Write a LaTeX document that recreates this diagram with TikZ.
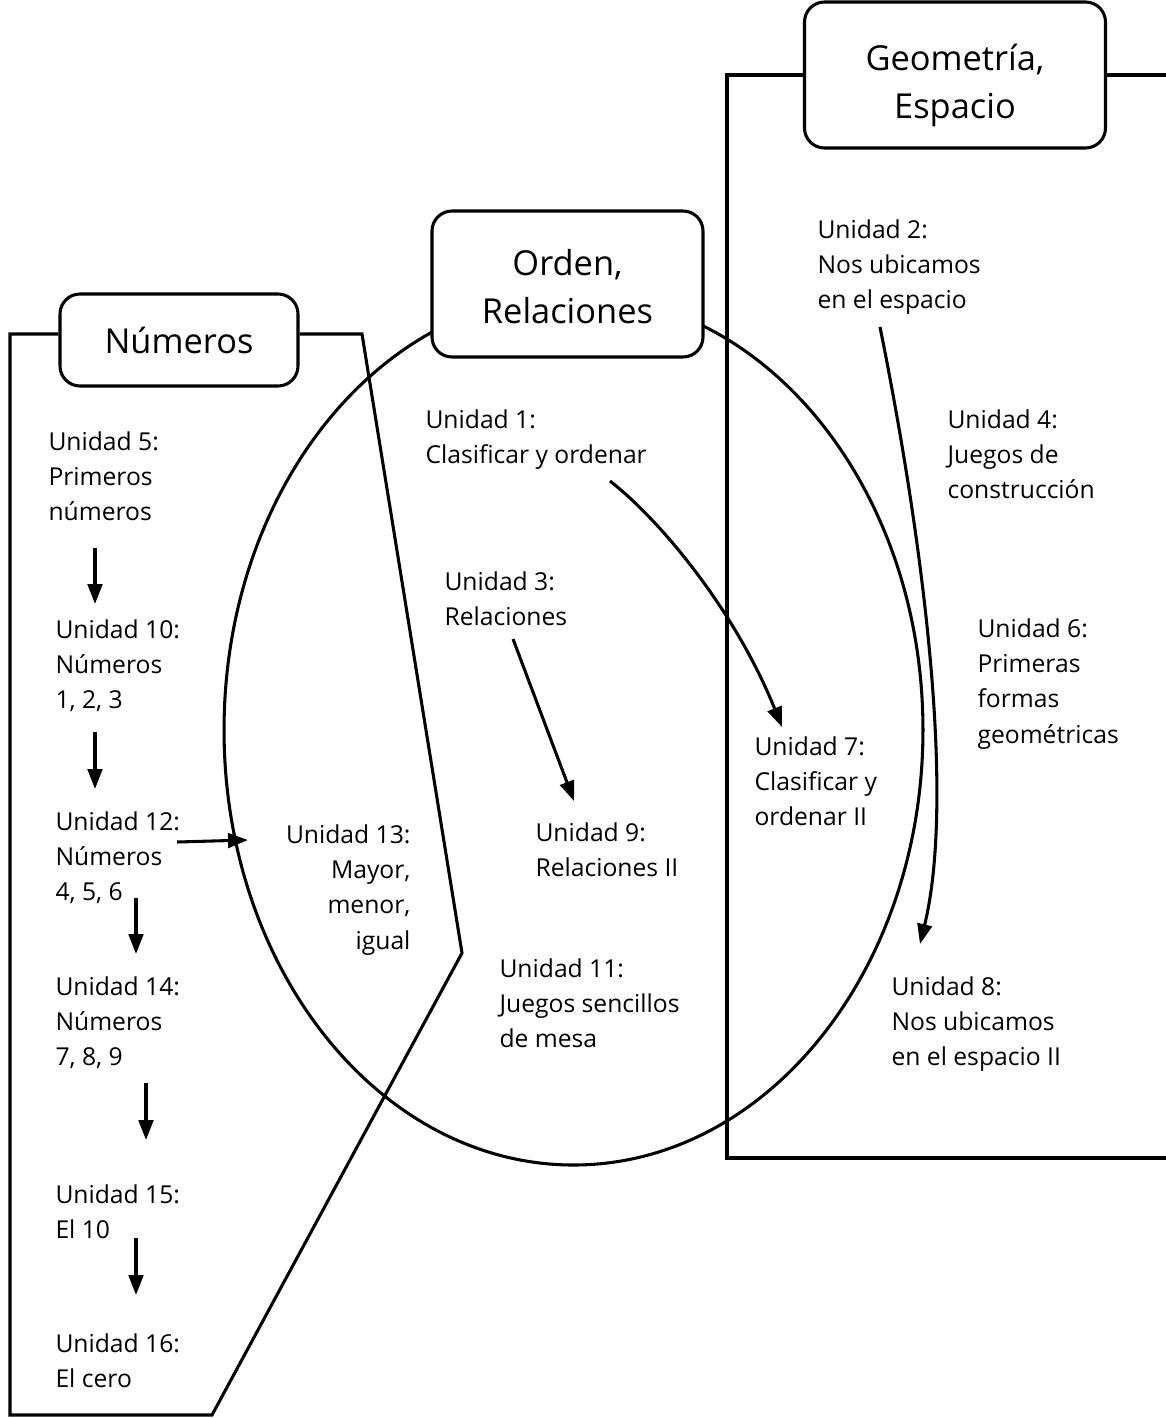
\documentclass[tikz,border=0pt]{standalone}
\usepackage{fontspec}
\setmainfont{Open Sans}
\usetikzlibrary{arrows.meta,calc}
\newcommand\ufont{\fontsize{18.5}{26.5}\selectfont}
\newcommand\hfont{\fontsize{25.8}{36}\selectfont}
\begin{document}
\begin{tikzpicture}[x=0.75pt,y=-0.75pt,line width=2.3pt,
  hdr/.style={draw,fill=white,rounded corners=15pt,align=center,font=\hfont,inner sep=0pt},
  unit/.style={align=left,font=\ufont,inner sep=0pt,anchor=north west},
  arr/.style={-{Triangle[length=15pt,width=11pt]}}]
\useasboundingbox (0,0) rectangle (1166,1418);
% ellipse
\coordinate (ec) at (573.5,730);
\draw (ec) ellipse [x radius=262.1pt, y radius=326.25pt];
% header boxes
\node[hdr,minimum width=178.5pt,minimum height=69pt] (num) at (179,340) {Números};
\node[hdr,minimum width=203.25pt,minimum height=109.5pt,
  label={[font=\hfont,align=center,yshift=-2pt]center:{Orden,\\Relaciones}}] (ord) at (567.5,284) {};
\node[hdr,minimum width=225.75pt,minimum height=109.5pt,
  label={[font=\hfont,align=center,yshift=-7.5pt]center:{Geometría,\\Espacio}}] (geo) at (955,75) {};
% region outlines
\coordinate (nly) at (0,334);
\coordinate (n1) at (10,334);
\coordinate (n2) at (10,1415);
\coordinate (n3) at (212,1415);
\coordinate (n4) at (462,953);
\coordinate (n5) at (362,334);
\draw (num.west |- nly) -- (n1) -- (n2) -- (n3) -- (n4) -- (n5) -- (num.east |- nly);
\coordinate (g1) at (727,75);
\coordinate (g2) at (727,1158);
\coordinate (g3) at (1166,1158);
\coordinate (g4) at (1166,75);
\draw (geo.west) -- (g1) -- (g2) -- (g3);
\draw (geo.east) -- (g4);
% unit texts
\node[unit] (u5) at (47,430) {Unidad 5:\\Primeros\\números};
\node[unit] (u10) at (54,618) {Unidad 10:\\Números\\1, 2, 3};
\node[unit] (u12) at (54,810) {Unidad 12:\\Números\\4, 5, 6};
\node[unit] (u14) at (54,975) {Unidad 14:\\Números\\7, 8, 9};
\node[unit] (u15) at (54,1183) {Unidad 15:\\El 10};
\node[unit] (u16) at (54,1332) {Unidad 16:\\El cero};
\node[unit,anchor=north east,align=right] (u13) at (412,823) {Unidad 13:\\Mayor,\\menor,\\igual};
\node[unit] (u1) at (424,408) {Unidad 1:\\Clasificar y ordenar};
\node[unit] (u3) at (443,570) {Unidad 3:\\Relaciones};
\node[unit] (u9) at (534,821) {Unidad 9:\\Relaciones II};
\node[unit] (u11) at (498,957) {Unidad 11:\\Juegos sencillos\\de mesa};
\node[unit] (u7) at (753,735) {Unidad 7:\\Clasificar y\\ordenar II};
\node[unit] (u2) at (816,218) {Unidad 2:\\Nos ubicamos\\en el espacio};
\node[unit] (u4) at (946,408) {Unidad 4:\\Juegos de\\construcción};
\node[unit] (u6) at (976,617) {Unidad 6:\\Primeras\\formas\\geométricas};
\node[unit] (u8) at (890,975) {Unidad 8:\\Nos ubicamos\\en el espacio II};
% arrow end points
\coordinate (a1s) at (95,548);   \coordinate (a1e) at (95,604);
\coordinate (a2s) at (95,732);   \coordinate (a2e) at (95,789);
\coordinate (a3s) at (177,842);  \coordinate (a3e) at (248,840);
\coordinate (a4s) at (136,898);  \coordinate (a4e) at (136,954);
\coordinate (a5s) at (146,1083); \coordinate (a5e) at (146,1140);
\coordinate (a6s) at (136,1238); \coordinate (a6e) at (136,1295);
\coordinate (b1s) at (610,481);  \coordinate (b1e) at (782,727);
\coordinate (b2s) at (513,639);  \coordinate (b2e) at (574,801);
\coordinate (b3s) at (880,327);  \coordinate (b3e) at (920,944);
\draw[arr] (a1s) -- (a1e);
\draw[arr] (a2s) -- (a2e);
\draw[arr] (a3s) -- (a3e);
\draw[arr] (a4s) -- (a4e);
\draw[arr] (a5s) -- (a5e);
\draw[arr] (a6s) -- (a6e);
\draw[arr] (b1s) .. controls (660,520) and (735,610) .. (b1e);
\draw[arr] (b2s) -- (b2e);
\draw[arr] (b3s) .. controls (925,550) and (955,800) .. (b3e);
\end{tikzpicture}
\end{document}
